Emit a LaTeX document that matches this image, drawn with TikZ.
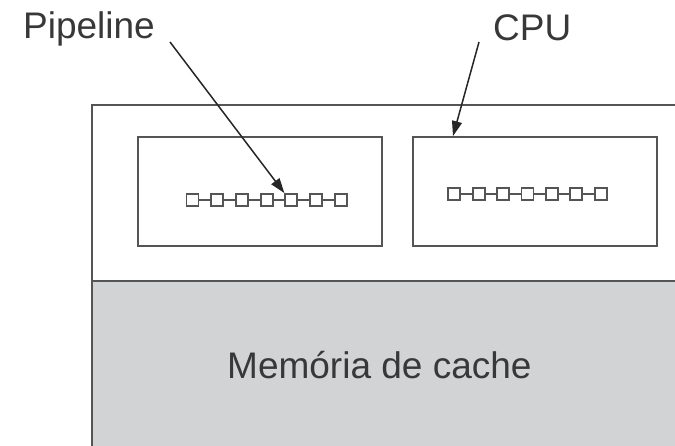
\documentclass[tikz,border=0pt]{standalone}
\usepackage{fontspec}
\setmainfont{Liberation Sans}
\usepackage{xcolor}
\usepackage{tikz}
\usetikzlibrary{arrows.meta,positioning,calc}

\definecolor{linegray}{HTML}{555555}
\definecolor{cachegray}{HTML}{D2D3D5}
\definecolor{textgray}{HTML}{383838}

\begin{document}
\begin{tikzpicture}[
    x=1pt, y=-1pt,
    frame/.style={draw=linegray, line width=2pt},
    corebox/.style={rectangle, draw=linegray, line width=1.8pt, inner sep=0pt},
    cell/.style={rectangle, draw=linegray, line width=1.8pt, fill=white, minimum size=12pt, inner sep=0pt},
    link/.style={draw=linegray, line width=1.2pt},
    label/.style={inner sep=0pt, anchor=base west, text=textgray, font=\fontsize{37}{40}\selectfont},
    pointer/.style={-{Triangle[length=15pt, width=10pt]}, line width=1.5pt, draw=black!85, fill=black!85}
]
\useasboundingbox (0,0) rectangle (675,446);

% Cache
\fill[cachegray] (92,281) rectangle (675,446);
\node[label] (cache) at (227,378) {Memória de cache};

% Chip outline
\draw[frame] (675,105) -- (92,105) -- (92,446);
\draw[frame] (92,281) -- (675,281);

% CPUs
\node[corebox, minimum width=244pt, minimum height=109pt] (cpuA) at (260,191.5) {};
\node[corebox, minimum width=244pt, minimum height=109pt] (cpuB) at (535,191.5) {};

% Pipelines
\foreach \i in {1,...,7} {
    \node[cell] (pa\i) at ({192.5+24.7*(\i-1)},200) {};
    \node[cell] (pb\i) at ({454.3+24.4*(\i-1)},194) {};
}
\foreach \i [count=\j from 2] in {1,...,6} {
    \draw[link] (pa\i) -- (pa\j);
    \draw[link] (pb\i) -- (pb\j);
}

% Labels
\node[label] (pipe) at (23,39) {Pipeline};
\node[label] (cpu) at (493,41) {CPU};
\coordinate (pipetail) at (170,42);
\coordinate (cputail) at (479,42);

\draw[pointer] (pipetail) -- (pa5.north west);
\draw[pointer] (cputail) -- (cpuB.north -| 453,0);

\end{tikzpicture}
\end{document}
